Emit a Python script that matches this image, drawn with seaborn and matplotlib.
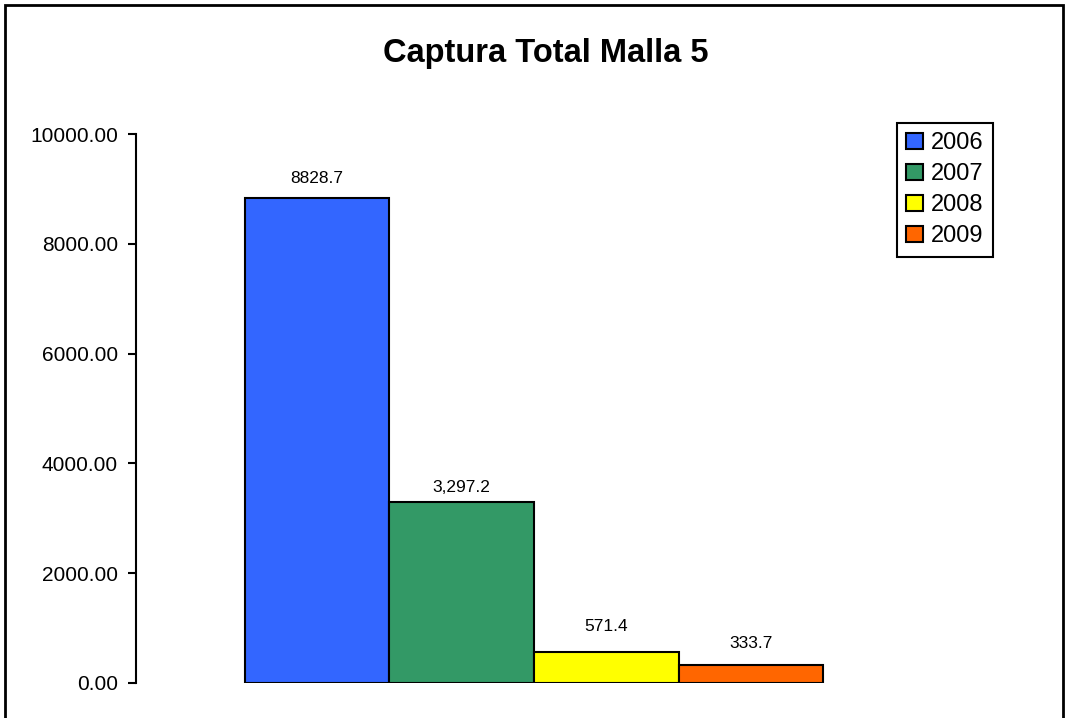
import numpy as np
import pandas as pd
import matplotlib
matplotlib.use('Agg')
import matplotlib.pyplot as plt
import seaborn as sns
from matplotlib.patches import Rectangle
from matplotlib.ticker import StrMethodFormatter

# datos del grafico
years = ['2006', '2007', '2008', '2009']
captura = [8828.7, 3297.2, 571.4, 333.7]
etiquetas = ['8828.7', '3,297.2', '571.4', '333.7']
colores = ['#3366FF', '#339966', '#FFFF00', '#FF6600']

sns.set_style('white')
plt.rcParams['font.family'] = ['Liberation Sans', 'DejaVu Sans']
plt.rcParams['text.color'] = 'black'
plt.rcParams['axes.labelcolor'] = 'black'
plt.rcParams['xtick.color'] = 'black'
plt.rcParams['ytick.color'] = 'black'

df = pd.DataFrame({'year': years, 'captura': captura})

fig = plt.figure(figsize=(10.67, 7.18), dpi=100)
ax = fig.add_axes([136/1067, 35/718, 796/1067, 549/718])

sns.barplot(data=df, x='year', y='captura', hue='year', palette=colores,
            width=1, saturation=1, edgecolor='black', linewidth=1.5,
            legend=False, ax=ax)

ax.set_xlim(-1.254, 4.254)
ax.set_ylim(0, 10000)
ax.set_yticks(np.arange(0, 10001, 2000))
ax.yaxis.set_major_formatter(StrMethodFormatter('{x:.2f}'))
ax.set_xticks([])
ax.set_xlabel('')
ax.set_ylabel('')
for s in ['top', 'right', 'bottom']:
    ax.spines[s].set_visible(False)
ax.spines['left'].set_color('black')
ax.spines['left'].set_linewidth(1.5)
ax.tick_params(axis='y', left=True, direction='out', length=6, width=1.5,
               pad=7, labelsize=15, labelcolor='black', color='black')

# separacion de cada etiqueta (como en el original de Excel)
pads = [8.5, 5, 13, 10]
for cont, lab, p in zip(ax.containers, etiquetas, pads):
    ax.bar_label(cont, labels=[lab], padding=p, fontsize=12.5, color='black')

# leyenda
handles = [Rectangle((0, 0), 1, 1, facecolor=c, edgecolor='black', linewidth=1.5) for c in colores]
leg = ax.legend(handles, years, loc='upper right',
                bbox_to_anchor=(993/1067, 1 - 123/718), bbox_transform=fig.transFigure,
                fontsize=17, handlelength=0.7, handleheight=0.7, handletextpad=0.35,
                labelspacing=0.38, borderpad=0.4, borderaxespad=0,
                fancybox=False, frameon=True, framealpha=1)
leg.get_frame().set_edgecolor('black')
leg.get_frame().set_linewidth(1.5)
for t in leg.get_texts():
    t.set_color('black')

fig.text(546/1067, 1 - 62/718, 'Captura Total Malla 5', ha='center', va='baseline',
         fontsize=23.5, fontweight='bold', color='black')

# borde del grafico
fig.patches.append(Rectangle((5/1067, -0.05), (1063 - 5)/1067, 1 - 5/718 + 0.05,
                             transform=fig.transFigure, fill=False,
                             edgecolor='black', linewidth=2))

fig.savefig('out.png', dpi=100)
